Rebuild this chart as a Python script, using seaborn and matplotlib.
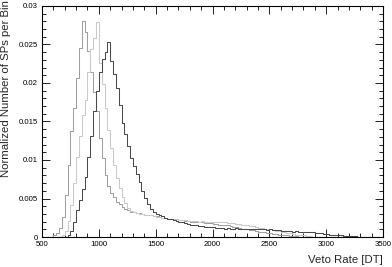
import numpy as np
import pandas as pd
import matplotlib
matplotlib.use("Agg")
import matplotlib.pyplot as plt
import seaborn as sns
from matplotlib.ticker import FixedLocator, FixedFormatter, MultipleLocator

# ---------------- data ----------------
x_min, x_max, bin_width = 500, 3500, 25

# medium gray (leftmost peak)
series_a = [0, 0, 0, 0, 0.0002, 0.0005, 0.0012, 0.0026, 0.0055, 0.0094,
            0.0138, 0.0168, 0.0207, 0.0246, 0.0280, 0.0266, 0.0241, 0.0214, 0.0188, 0.0163,
            0.0128, 0.0103, 0.0081, 0.0066, 0.0057, 0.0052, 0.0046, 0.0043, 0.0039, 0.0037,
            0.0035, 0.0033, 0.0033, 0.0031, 0.0031, 0.0030, 0.0029, 0.0029, 0.0028, 0.0027,
            0.0027, 0.0026, 0.0025, 0.0025, 0.0024, 0.0024, 0.0023, 0.0023, 0.0022, 0.0022,
            0.0021, 0.0021, 0.0020, 0.0020, 0.0019, 0.0019, 0.0019, 0.0018, 0.0018, 0.0018,
            0.0017, 0.0017, 0.0016, 0.0016, 0.0015, 0.0015, 0.0014, 0.0013, 0.0013, 0.0012,
            0.0011, 0.0011, 0.0010, 0.0009, 0.0009, 0.0008, 0.0007, 0.0007, 0.0006, 0.0005,
            0.0005, 0.0004, 0.0004, 0.0003, 0.0003, 0.0002, 0.0002, 0.0001, 0.0001, 0.0001]

# light gray (middle peak)
series_b = [0, 0, 0, 0, 0, 0, 0, 0.0002, 0.0008, 0.0021,
            0.0041, 0.0070, 0.0104, 0.0131, 0.0158, 0.0178, 0.0214, 0.0244, 0.0259, 0.0279,
            0.0226, 0.0199, 0.0168, 0.0139, 0.0116, 0.0094, 0.0077, 0.0063, 0.0052, 0.0044,
            0.0038, 0.0034, 0.0032, 0.0031, 0.0030, 0.0030, 0.0029, 0.0028, 0.0028, 0.0027,
            0.0026, 0.0026, 0.0025, 0.0025, 0.0024, 0.0024, 0.0023, 0.0023, 0.0022, 0.0022,
            0.0022, 0.0021, 0.0021, 0.0021, 0.0021, 0.0020, 0.0021, 0.0020, 0.0020, 0.0020,
            0.0020, 0.0019, 0.0019, 0.0019, 0.0019, 0.0018, 0.0018, 0.0018, 0.0017, 0.0017,
            0.0016, 0.0016, 0.0015, 0.0014, 0.0014, 0.0013, 0.0012, 0.0012, 0.0011, 0.0010,
            0.0010, 0.0009, 0.0008, 0.0008, 0.0007, 0.0006, 0.0005, 0.0005, 0.0004, 0.0003,
            0.0003, 0.0002, 0.0002, 0.0001, 0.0001]

# dark (rightmost peak)
series_c = [0, 0, 0, 0, 0, 0, 0, 0, 0, 0.0002,
            0.0008, 0.0020, 0.0035, 0.0048, 0.0062, 0.0078, 0.0104, 0.0131, 0.0164, 0.0190,
            0.0214, 0.0231, 0.0240, 0.0253, 0.0229, 0.0212, 0.0194, 0.0171, 0.0148, 0.0134,
            0.0118, 0.0102, 0.0092, 0.0082, 0.0071, 0.0060, 0.0051, 0.0043, 0.0036, 0.0032,
            0.0030, 0.0028, 0.0027, 0.0025, 0.0024, 0.0023, 0.0022, 0.0021, 0.0020, 0.0019,
            0.0018, 0.0017, 0.0016, 0.0015, 0.0015, 0.0014, 0.0014, 0.0013, 0.0013, 0.0013,
            0.0013, 0.0012, 0.0012, 0.0012, 0.0011, 0.0012, 0.0011, 0.0011, 0.0012, 0.0011,
            0.0011, 0.0010, 0.0011, 0.0010, 0.0010, 0.0010, 0.0011, 0.0010, 0.0010, 0.0009,
            0.0010, 0.0009, 0.0009, 0.0009, 0.0008, 0.0008, 0.0008, 0.0008, 0.0007, 0.0008,
            0.0007, 0.0007, 0.0007, 0.0006, 0.0006, 0.0006, 0.0005, 0.0005, 0.0005, 0.0004,
            0.0004, 0.0003, 0.0003, 0.0002, 0.0002, 0.0002, 0.0001, 0.0001, 0.0001, 0.0001,
            0.0001]

series_colors = ["#a0a0a0", "#cacaca", "#4a4a4a"]

x_ticks = [500, 1000, 1500, 2000, 2500, 3000, 3500]
x_tick_labels = ["500", "1000", "1500", "2000", "2500", "3000", "3500"]
y_ticks = [0, 0.005, 0.01, 0.015, 0.02, 0.025, 0.03]
y_tick_labels = ["0", "0.005", "0.01", "0.015", "0.02", "0.025", "0.03"]
x_label = "Veto Rate [DT]"
y_label = "Normalized Number of SPs per Bin"

# ---------------- build table ----------------
n_bins = int((x_max - x_min) / bin_width)
centers = x_min + bin_width * (np.arange(n_bins) + 0.5)
frames = []
for name, vals in zip(["A", "B", "C"], [series_a, series_b, series_c]):
    v = list(vals) + [0.0] * (n_bins - len(vals))
    frames.append(pd.DataFrame({"x": centers, "w": v, "s": name}))
df = pd.concat(frames, ignore_index=True)

# ---------------- plot ----------------
sns.set_style("ticks")
plt.rcParams["font.family"] = ["Liberation Sans", "DejaVu Sans"]

fig = plt.figure(figsize=(3.92, 2.67), dpi=100)
ax = fig.add_axes([42 / 392, 1 - 237 / 267, (383 - 42) / 392, (237 - 6) / 267])

for name, col in zip(["A", "B", "C"], series_colors):
    sub = df[df["s"] == name]
    sns.histplot(data=sub, x="x", weights="w", binwidth=bin_width,
                 binrange=(x_min, x_max), element="step",
                 fill=False, color=col, linewidth=0.75, ax=ax)

ax.set_xlim(x_min, x_max)
ax.set_ylim(0, 0.03)
ax.xaxis.set_major_locator(FixedLocator(x_ticks))
ax.xaxis.set_major_formatter(FixedFormatter(x_tick_labels))
ax.yaxis.set_major_locator(FixedLocator(y_ticks))
ax.yaxis.set_major_formatter(FixedFormatter(y_tick_labels))
ax.xaxis.set_minor_locator(MultipleLocator(100))
ax.yaxis.set_minor_locator(MultipleLocator(0.001))

ax.tick_params(axis="both", which="both", direction="in", top=True, right=True,
               colors="black", labelsize=5.6, width=0.6)
ax.tick_params(axis="both", which="major", length=5.5, pad=3)
ax.tick_params(axis="both", which="minor", length=3)
for sp in ax.spines.values():
    sp.set_visible(True)
    sp.set_color("black")
    sp.set_linewidth(0.8)

ax.set_xlabel("")
ax.set_ylabel("")
fig.text(383 / 392, 1 - 263 / 267, x_label, ha="right", va="baseline", fontsize=8.2)
fig.text(1 / 392, 1.0, y_label, ha="left", va="top", rotation=90, fontsize=8.2)

fig.savefig("out.png", dpi=100, facecolor="white")
